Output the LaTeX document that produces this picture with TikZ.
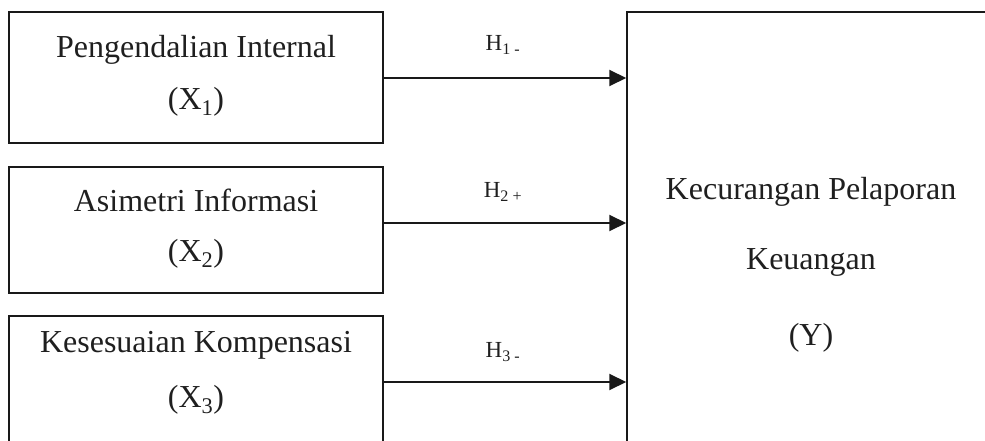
\documentclass[tikz,border=0pt]{standalone}
\usepackage{fontspec}
\setmainfont{Liberation Serif}
\usetikzlibrary{arrows.meta}
\begin{document}
\begin{tikzpicture}[x=1pt,y=-1pt,
  box/.style={draw=black!90,line width=1.5pt,minimum width=374pt,inner sep=0pt},
  arr/.style={line width=2pt,draw=black!90,-{Triangle[length=17pt,width=16pt]}},
  txt/.style={font=\fontsize{32}{38}\selectfont,text=black!88},
  hl/.style={font=\fontsize{23}{28}\selectfont,text=black!88}]
\clip (0,0) rectangle (985,441);
\node[box,minimum height=131pt] (b1) at (196,77.5) {};
\node[box,minimum height=126pt] (b2) at (196,230) {};
\node[box,minimum height=144pt] (b3) at (196,388) {};
\node[draw=black!90,line width=1.5pt,minimum width=380pt,minimum height=448pt,inner sep=0pt] (y) at (817,236) {};
\node[txt] (t1) at (196,50) {Pengendalian Internal};
\node[txt] (t1b) at (196,102) {(X\textsubscript{1})};
\node[txt] (t2) at (196,200) {Asimetri Informasi};
\node[txt] (t2b) at (196,254) {(X\textsubscript{2})};
\node[txt] (t3) at (196,345) {Kesesuaian Kompensasi};
\node[txt] (t3b) at (196,400) {(X\textsubscript{3})};
\node[txt] (ty1) at (811,192) {Kecurangan Pelaporan};
\node[txt] (ty2) at (811,262) {Keuangan};
\node[txt] (ty3) at (811,338) {(Y)};
\draw[arr] (b1.east |- 0,78) -- (y.west |- 0,78);
\draw[arr] (b2.east |- 0,223) -- (y.west |- 0,223);
\draw[arr] (b3.east |- 0,382) -- (y.west |- 0,382);
\node[hl] (h1) at (503,45) {H\textsubscript{1 -}};
\node[hl] (h2) at (503,192) {H\textsubscript{2 +}};
\node[hl] (h3) at (503,352) {H\textsubscript{3 -}};
\end{tikzpicture}
\end{document}
